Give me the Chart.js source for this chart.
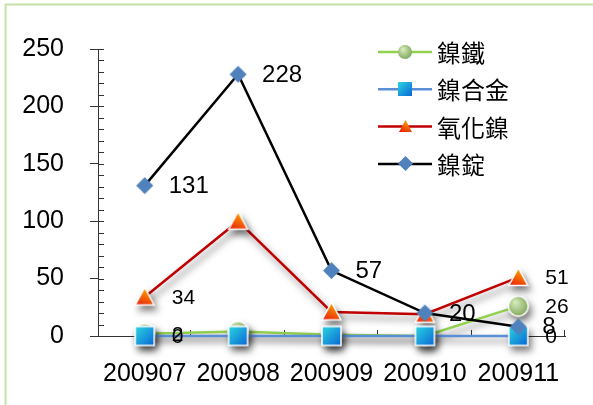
<!DOCTYPE html>
<html>
<head>
<meta charset="utf-8">
<script src="https://cdn.jsdelivr.net/npm/chart.js@4/dist/chart.umd.min.js"></script>
<style>
  html, body { margin: 0; padding: 0; background: #fff; }
  #wrap { position: relative; width: 593px; height: 405px; }
  canvas { display: block; }
</style>
</head>
<body>
<div id="wrap"><canvas id="c" width="593" height="405"></canvas></div>
<script>
// Monthly volumes per product
const months = ['200907', '200908', '200909', '200910', '200911'];
const nickelIron = [2, 4, 1, 0, 26];
const nickelAlloy = [0, 0, 0, 0, 0];
const nickelOxide = [34, 100, 21, 19, 51];
const nickelIngot = [131, 228, 57, 20, 8];
const seriesNames = ['鎳鐵', '鎳合金', '氧化鎳', '鎳錠'];
const yTickValues = [0, 50, 100, 150, 200, 250];
// which points carry a value label, per series
const labelledPoints = [[0, 4], [0, 4], [0, 4], [0, 1, 2, 3, 4]];

const NUM_FONT = '"Liberation Sans", Arial, sans-serif';
const CJK_FONT = '"Noto Sans CJK TC", "Noto Sans CJK SC", sans-serif';
const AXIS_COLOR = '#333333';

// ---------- marker sprites ----------
function sprite(size, draw) {
  const pad = 3;
  const c = document.createElement('canvas');
  c.width = c.height = size + pad * 2;
  const g = c.getContext('2d');
  g.translate(pad, pad);
  draw(g, size);
  return c;
}
function squareMarker(s, border) {
  return sprite(s, (g) => {
    const gr = g.createLinearGradient(0, 0, s, s);
    gr.addColorStop(0, '#2bd6e0');
    gr.addColorStop(1, '#0a66d6');
    g.fillStyle = gr;
    g.fillRect(0, 0, s, s);
    if (border) { g.strokeStyle = '#fff'; g.lineWidth = 1.5; g.strokeRect(0, 0, s, s); }
  });
}
function triangleMarker(s, border) {
  return sprite(s, (g) => {
    const gr = g.createLinearGradient(s * 0.7, 0, s * 0.3, s);
    gr.addColorStop(0, '#ffae00');
    gr.addColorStop(1, '#e8200c');
    g.beginPath();
    g.moveTo(s / 2, 0);
    g.lineTo(s, s * 0.92);
    g.lineTo(0, s * 0.92);
    g.closePath();
    g.fillStyle = gr;
    g.fill();
    if (border) { g.strokeStyle = '#fff'; g.lineWidth = 1.5; g.stroke(); }
  });
}
function circleMarker(s, border) {
  return sprite(s, (g) => {
    const gr = g.createRadialGradient(s * 0.35, s * 0.3, 1, s * 0.45, s * 0.45, s * 0.6);
    gr.addColorStop(0, '#d4e8b8');
    gr.addColorStop(1, '#7ea658');
    g.beginPath();
    g.arc(s / 2, s / 2, s / 2, 0, Math.PI * 2);
    g.fillStyle = gr;
    g.fill();
    if (border) { g.strokeStyle = '#fff'; g.lineWidth = 1.5; g.stroke(); }
  });
}
function diamondMarker(s) {
  return sprite(s, (g) => {
    g.beginPath();
    g.moveTo(s / 2, 0);
    g.lineTo(s, s / 2);
    g.lineTo(s / 2, s);
    g.lineTo(0, s / 2);
    g.closePath();
    g.fillStyle = '#4f81bd';
    g.fill();
  });
}

const styles = [
  { color: '#92d050', width: 2.5, marker: circleMarker(20, true), legendMarker: circleMarker(14, false), shadow: true, labelSize: 21, labelDx: 27 },
  { color: '#5a8ed6', width: 2.5, marker: squareMarker(19, true), legendMarker: squareMarker(14, false), shadow: true, labelSize: 21, labelDx: 27 },
  { color: '#c00000', width: 2.5, marker: triangleMarker(19, true), legendMarker: triangleMarker(13, false), shadow: true, labelSize: 21, labelDx: 27 },
  { color: '#000000', width: 2.5, marker: diamondMarker(17), legendMarker: diamondMarker(15), shadow: false, labelSize: 24, labelDx: 24 }
];
const seriesValues = [nickelIron, nickelAlloy, nickelOxide, nickelIngot];
const drawOrder = [3, 1, 2, 0]; // ingot on top, then alloy, oxide, iron

const datasets = seriesValues.map((vals, i) => ({
  label: seriesNames[i],
  data: vals,
  borderColor: styles[i].color,
  borderWidth: styles[i].width,
  pointStyle: styles[i].marker,
  pointRadius: 10,
  tension: 0,
  fill: false,
  clip: false,
  order: drawOrder[i]
}));

// ---------- plugins ----------
const frame = {
  id: 'frame',
  beforeDraw(chart) {
    const ctx = chart.ctx;
    ctx.save();
    ctx.fillStyle = '#fff';
    ctx.fillRect(0, 0, chart.width, chart.height);
    ctx.strokeStyle = '#c6e2a6';
    ctx.lineWidth = 2;
    ctx.beginPath();
    ctx.moveTo(5.5, chart.height + 5);
    ctx.lineTo(5.5, 4.5);
    ctx.lineTo(chart.width + 5, 4.5);
    ctx.stroke();
    ctx.restore();
  }
};

const innerTicks = {
  id: 'innerTicks',
  beforeDatasetsDraw(chart) {
    const { ctx, chartArea: a, scales: { x, y } } = chart;
    const minorStep = 10;
    ctx.save();
    ctx.strokeStyle = AXIS_COLOR;
    ctx.lineWidth = 1;
    ctx.beginPath();
    for (let v = y.min; v <= y.max; v += minorStep) {
      const py = Math.round(y.getPixelForValue(v)) + 0.5;
      ctx.moveTo(a.left, py);
      ctx.lineTo(a.left + 6, py);
    }
    for (let i = 1; i <= months.length; i++) {
      const px = Math.round(x.getPixelForValue(i - 0.5)) - 0.5;
      ctx.moveTo(px, a.bottom);
      ctx.lineTo(px, a.bottom - 6);
    }
    ctx.stroke();
    ctx.restore();
  }
};

const shadows = {
  id: 'shadows',
  beforeDatasetDraw(chart, args) {
    if (!styles[args.index].shadow) return;
    const ctx = chart.ctx;
    ctx.save();
    ctx.shadowColor = 'rgba(0,0,0,0.5)';
    ctx.shadowBlur = 7;
    ctx.shadowOffsetX = 3;
    ctx.shadowOffsetY = 5;
  },
  afterDatasetDraw(chart, args) {
    if (!styles[args.index].shadow) return;
    chart.ctx.restore();
  }
};

const valueLabels = {
  id: 'valueLabels',
  afterDatasetsDraw(chart) {
    const ctx = chart.ctx;
    ctx.save();
    ctx.fillStyle = '#000';
    ctx.textAlign = 'left';
    ctx.textBaseline = 'middle';
    labelledPoints.forEach((idxs, di) => {
      const meta = chart.getDatasetMeta(di);
      ctx.font = styles[di].labelSize + 'px ' + NUM_FONT;
      idxs.forEach((i) => {
        const pt = meta.data[i];
        ctx.fillText(String(chart.data.datasets[di].data[i]), pt.x + styles[di].labelDx, pt.y + 1);
      });
    });
    ctx.restore();
  }
};

const lineLegend = {
  id: 'lineLegend',
  afterDraw(chart) {
    const ctx = chart.ctx;
    const x0 = 378, lineLen = 54, top = 52, rowGap = 37.3;
    ctx.save();
    ctx.font = '24px ' + CJK_FONT;
    ctx.textBaseline = 'middle';
    ctx.textAlign = 'left';
    chart.data.datasets.forEach((ds, i) => {
      const y = top + i * rowGap;
      ctx.strokeStyle = styles[i].color;
      ctx.lineWidth = styles[i].width;
      ctx.beginPath();
      ctx.moveTo(x0, y);
      ctx.lineTo(x0 + lineLen, y);
      ctx.stroke();
      const m = styles[i].legendMarker;
      ctx.drawImage(m, Math.round(x0 + lineLen / 2 - m.width / 2), Math.round(y - m.height / 2));
      ctx.fillStyle = '#000';
      ctx.fillText(ds.label, x0 + lineLen + 5, y + 1);
    });
    ctx.restore();
  }
};

new Chart(document.getElementById('c'), {
  type: 'line',
  data: { labels: months, datasets },
  options: {
    responsive: false,
    animation: false,
    events: [],
    layout: { padding: { left: 0, right: 28, top: 49, bottom: 0 } },
    plugins: { legend: { display: false }, tooltip: { enabled: false } },
    scales: {
      x: {
        type: 'category',
        offset: true,
        grid: { display: false, drawTicks: false },
        border: { display: true, color: AXIS_COLOR, width: 1 },
        ticks: {
          color: '#000',
          font: { family: NUM_FONT, size: 25 },
          padding: 23,
          maxRotation: 0,
          autoSkip: false
        },
        afterFit(scale) { scale.height = 69; }
      },
      y: {
        min: 0,
        max: 250,
        afterBuildTicks(scale) { scale.ticks = yTickValues.map((v) => ({ value: v })); },
        grid: { drawOnChartArea: false, drawTicks: true, tickLength: 8, color: AXIS_COLOR },
        border: { display: true, color: AXIS_COLOR, width: 1 },
        ticks: {
          color: '#000',
          font: { family: NUM_FONT, size: 25 },
          padding: 26
        },
        afterFit(scale) { scale.width = 98; }
      }
    }
  },
  plugins: [frame, innerTicks, shadows, valueLabels, lineLegend]
});
</script>
</body>
</html>
